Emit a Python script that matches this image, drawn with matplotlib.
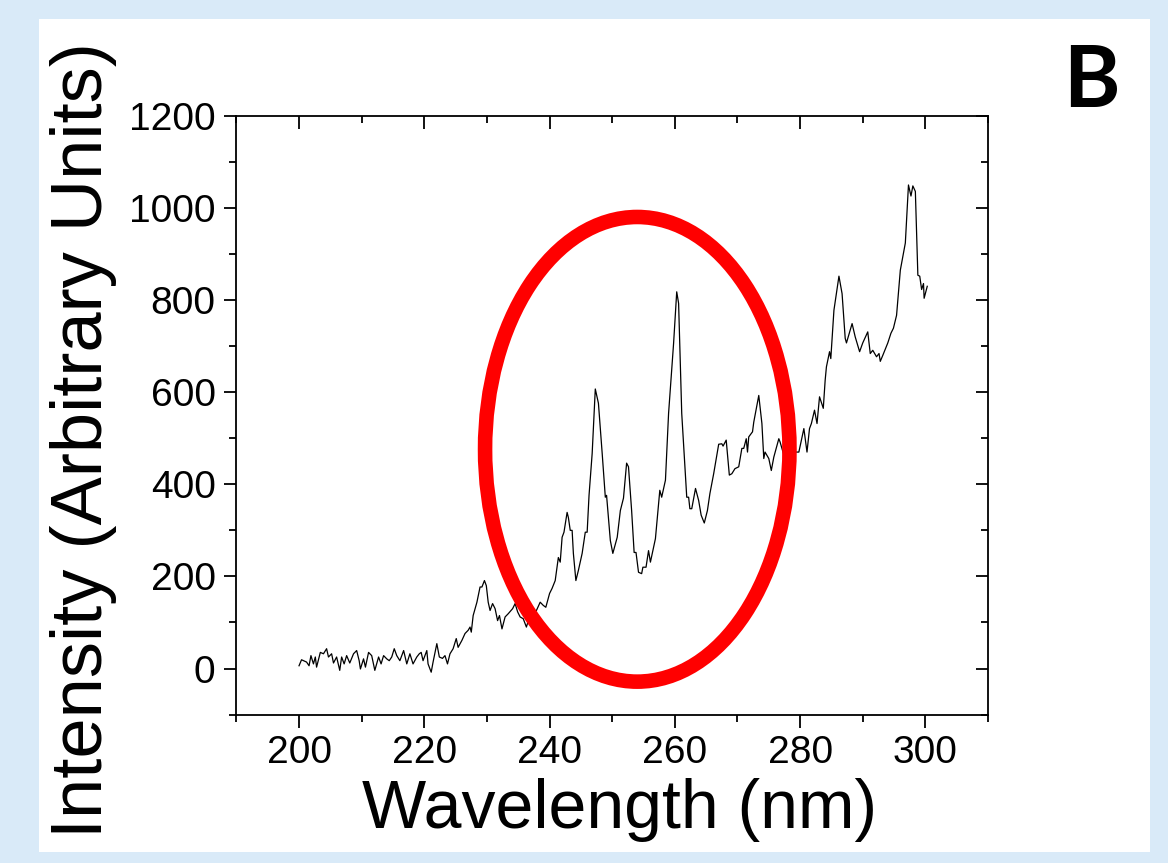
import matplotlib.pyplot as plt
from matplotlib.patches import Ellipse, Rectangle
from matplotlib.ticker import MultipleLocator

# spectrum (nm, arbitrary units)
wavelength = [
    200.0, 200.4, 201.2, 201.6, 201.9, 202.3, 202.6, 202.8, 203.4, 203.9,
    204.4, 204.7, 205.2, 205.5, 206.0, 206.5, 206.8, 207.2, 207.6, 208.1,
    208.7, 209.2, 209.6, 209.8, 210.3, 210.6, 211.1, 211.6, 212.1, 212.7,
    213.1, 213.5, 214.0, 214.4, 214.8, 215.2, 215.6, 216.1, 216.7, 217.2,
    217.7, 218.2, 218.8, 219.2, 219.5, 219.8, 220.4, 220.6, 221.1, 221.4,
    222.0, 222.4, 222.9, 223.3, 223.7, 224.1, 224.6, 225.1, 225.4, 226.0,
    226.5, 227.0, 227.3, 227.5, 227.8, 228.4, 228.9, 229.2, 229.6, 229.9,
    230.2, 230.5, 230.9, 231.3, 231.7, 232.0, 232.4, 232.9, 233.4, 234.1,
    234.5, 234.9, 235.3, 235.8, 236.3, 236.7, 237.4, 237.9, 238.5, 239.0,
    239.4, 240.0, 240.4, 240.9, 241.4, 241.7, 242.0, 242.3, 242.8, 243.0,
    243.3, 243.6, 243.8, 244.2, 244.6, 245.2, 245.7, 246.0, 246.3, 246.8,
    247.3, 247.8, 248.4, 248.9, 249.1, 249.7, 250.1, 250.8, 251.3, 251.8,
    252.3, 252.6, 253.1, 253.5, 253.8, 254.2, 254.7, 254.9, 255.4, 255.8,
    256.1, 256.9, 257.6, 257.9, 258.5, 259.0, 259.8, 260.3, 260.6, 261.1,
    261.9, 262.2, 262.4, 262.7, 263.3, 263.8, 264.2, 264.7, 265.2, 265.6,
    266.2, 267.0, 267.5, 267.7, 268.2, 268.7, 269.1, 269.6, 270.2, 270.7,
    271.0, 271.4, 271.6, 271.8, 272.4, 272.6, 273.4, 273.9, 274.2, 274.4,
    275.0, 275.4, 275.8, 276.6, 276.8, 277.5, 278.6, 279.8, 280.6, 281.1,
    281.5, 281.8, 282.3, 282.7, 283.1, 283.7, 284.0, 284.2, 284.7, 284.9,
    285.4, 286.2, 286.7, 287.2, 287.4, 288.3, 288.8, 289.5, 290.0, 290.8,
    291.2, 291.6, 292.2, 292.6, 292.8, 293.2, 294.0, 294.5, 294.9, 295.4,
    296.0, 296.8, 297.3, 297.7, 298.0, 298.4, 298.8, 299.1, 299.4, 299.7,
    299.8, 300.3,
]
intensity = [
    6, 19, 14, 6, 28, 10, 25, 3, 35, 32,
    43, 25, 32, 12, 25, -4, 25, 10, 28, 12,
    32, 39, 17, -1, 21, 3, 35, 28, -4, 25,
    10, 28, 21, 17, 25, 43, 28, 17, 39, 10,
    32, 10, 25, 32, 35, 17, 39, 10, -8, 14,
    54, 25, 22, 28, 10, 32, 43, 65, 46, 61,
    76, 83, 90, 79, 115, 144, 177, 177, 191, 180,
    144, 126, 141, 130, 104, 115, 86, 112, 119, 130,
    141, 123, 112, 108, 90, 108, 122, 126, 144, 137,
    133, 163, 174, 191, 241, 231, 285, 296, 339, 328,
    300, 300, 250, 191, 213, 250, 296, 296, 376, 467,
    607, 576, 467, 372, 376, 278, 250, 285, 343, 370,
    446, 438, 343, 252, 252, 209, 206, 220, 220, 256,
    231, 282, 387, 372, 409, 554, 706, 818, 793, 554,
    372, 372, 347, 347, 391, 365, 333, 316, 343, 380,
    423, 487, 488, 483, 496, 420, 423, 434, 438, 478,
    478, 499, 470, 503, 514, 535, 593, 532, 456, 470,
    456, 430, 459, 499, 492, 459, 470, 470, 521, 470,
    521, 532, 561, 532, 590, 565, 626, 655, 688, 673,
    778, 852, 814, 717, 707, 749, 720, 688, 707, 731,
    684, 691, 677, 684, 667, 680, 707, 728, 739, 767,
    865, 924, 1050, 1026, 1048, 1036, 854, 852, 823, 836,
    804, 830,
]

# highlighted region
ring_center = (254.0, 476)
ring_width = 48.6
ring_height = 1009

fig = plt.figure(figsize=(11.68, 8.63), dpi=100)
fig.patch.set_facecolor('#d9eaf8')
fig.patches.append(Rectangle((39 / 1168, 11 / 863), 1111 / 1168, 833 / 863,
                             transform=fig.transFigure, facecolor='white',
                             edgecolor='none', zorder=-1))

ax = fig.add_axes([0.2024, 0.172, 0.6435, 0.6937])
ax.plot(wavelength, intensity, color='black', lw=0.9)

ax.add_patch(Ellipse(ring_center, ring_width, ring_height, fill=False,
                     edgecolor='#ff0000', lw=10.5, clip_on=False, zorder=5))

ax.set_xlim(190, 310)
ax.set_ylim(-100, 1200)
ax.xaxis.set_major_locator(MultipleLocator(20))
ax.xaxis.set_minor_locator(MultipleLocator(10))
ax.yaxis.set_major_locator(MultipleLocator(200))
ax.yaxis.set_minor_locator(MultipleLocator(100))
ax.set_xticks([200, 220, 240, 260, 280, 300])

for s in ax.spines.values():
    s.set_linewidth(1.3)
ax.tick_params(which='major', direction='out', length=9, width=1.3,
               labelsize=28, pad=6)
ax.tick_params(which='minor', direction='out', length=5, width=1.3)
ax.tick_params(which='both', top=True, right=True)
# top and right ticks point inward
for t in ax.xaxis.get_ticklines(minor=False)[1::2] + ax.xaxis.get_ticklines(minor=True)[1::2]:
    t.set_marker(3)
for t in ax.yaxis.get_ticklines(minor=False)[1::2] + ax.yaxis.get_ticklines(minor=True)[1::2]:
    t.set_marker(0)
for lab in ax.get_xticklabels() + ax.get_yticklabels():
    lab.set_family('Liberation Sans')

fig.text(620 / 1168, 1 - 810 / 863, 'Wavelength (nm)', ha='center', va='center',
         fontsize=49, family='Liberation Sans')
fig.text(84 / 1168, 1 - 440 / 863, 'Intensity (Arbitrary Units)', ha='center',
         va='center', rotation=90, fontsize=52, family='Liberation Sans')
fig.text(1091 / 1168, 1 - 82 / 863, 'B', ha='center', va='center',
         fontsize=62, fontweight='bold', family='Lato')

fig.savefig('out.png', dpi=100, facecolor=fig.get_facecolor())
